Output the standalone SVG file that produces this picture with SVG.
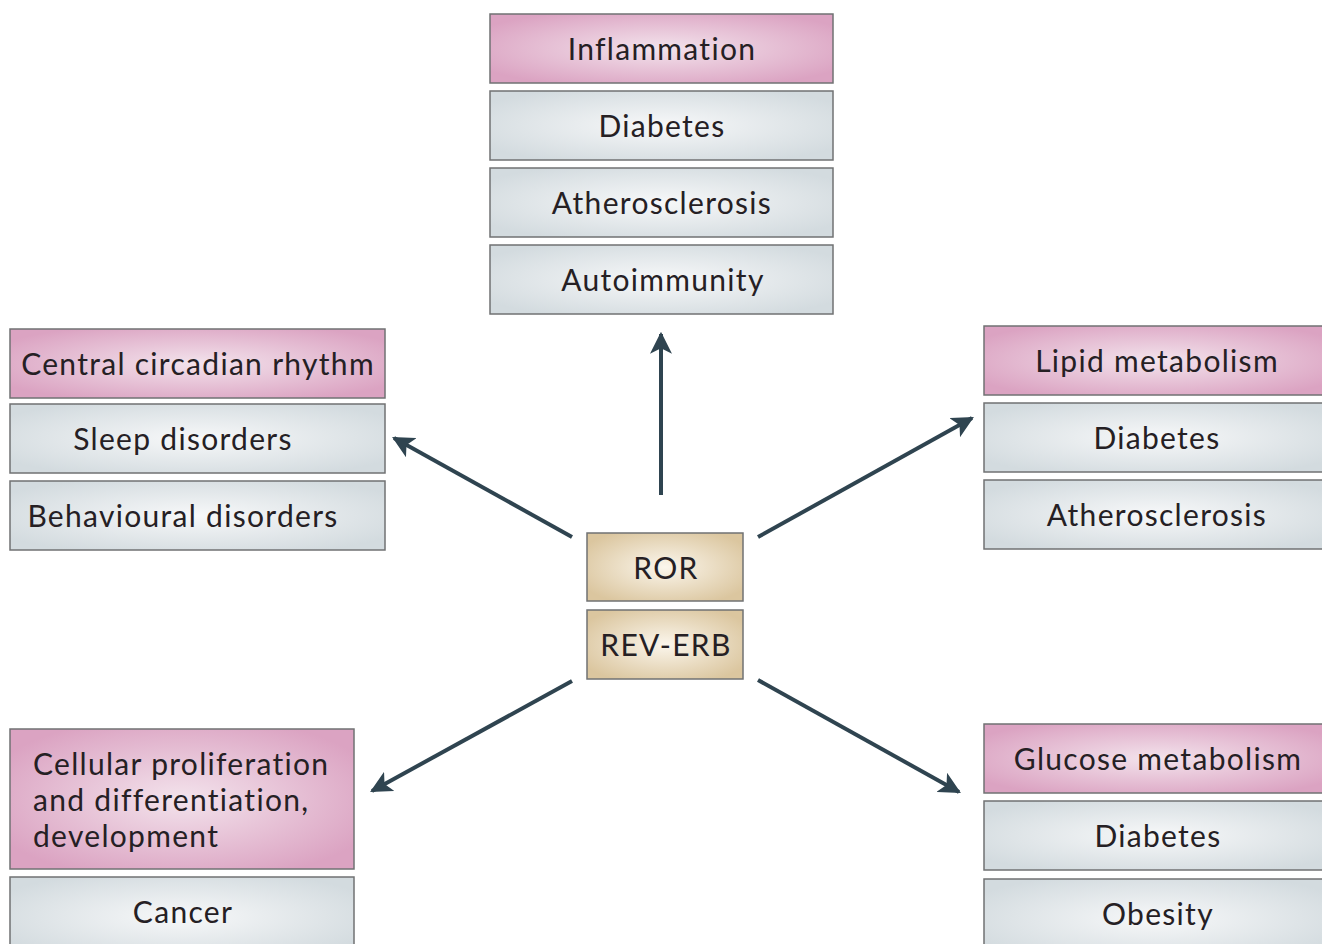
<svg xmlns="http://www.w3.org/2000/svg" width="1322" height="944" viewBox="0 0 1322 944">
<defs>
<radialGradient id="gPink" cx="50%" cy="50%" r="60%">
<stop offset="0" stop-color="#f3e3ec"/>
<stop offset="1" stop-color="#dba3c2"/>
</radialGradient>
<radialGradient id="gGrey" cx="50%" cy="50%" r="60%">
<stop offset="0" stop-color="#f7f8f9"/>
<stop offset="1" stop-color="#d3dbdf"/>
</radialGradient>
<radialGradient id="gTan" cx="50%" cy="50%" r="60%">
<stop offset="0" stop-color="#fbf6ec"/>
<stop offset="1" stop-color="#dbc69f"/>
</radialGradient>
<marker id="ah" viewBox="0 0 10 10" refX="9" refY="5" markerWidth="5.5" markerHeight="5.5" orient="auto" markerUnits="strokeWidth">
<path d="M0,0 L10,5 L0,10 L2.5,5 Z" fill="#2f4450"/>
</marker>
<style>
.pink{fill:url(#gPink);stroke:#707273;stroke-width:1.5}
.grey{fill:url(#gGrey);stroke:#707273;stroke-width:1.5}
.tan{fill:url(#gTan);stroke:#707273;stroke-width:1.5}
text{font-family:Lato,"Open Sans","Liberation Sans",sans-serif;font-size:30px;letter-spacing:1.3px;fill:#252024;text-anchor:middle;dominant-baseline:central}
.l{text-anchor:start}
.conn{stroke:#2f4450;stroke-width:4;fill:none;marker-end:url(#ah)}
</style>
</defs>
<rect width="1322" height="944" fill="#ffffff"/>
<g id="connectors">
<line class="conn" x1="661" y1="495" x2="661" y2="334"/>
<line class="conn" x1="572" y1="537" x2="394" y2="438"/>
<line class="conn" x1="758" y1="537" x2="972" y2="418"/>
<line class="conn" x1="572" y1="681" x2="372" y2="791"/>
<line class="conn" x1="758" y1="680" x2="959" y2="792"/>
</g>
<g id="top">
<g id="inflammation"><rect class="pink" x="490" y="14" width="343" height="69"/><text x="662" y="48">Inflammation</text></g>
<g id="top-diabetes"><rect class="grey" x="490" y="91" width="343" height="69"/><text x="662" y="125">Diabetes</text></g>
<g id="top-atherosclerosis"><rect class="grey" x="490" y="168" width="343" height="69"/><text x="662" y="202">Atherosclerosis</text></g>
<g id="autoimmunity"><rect class="grey" x="490" y="245" width="343" height="69"/><text x="663" y="279">Autoimmunity</text></g>
</g>
<g id="left">
<g id="circadian"><rect class="pink" x="10" y="329" width="375" height="69"/><text x="198" y="363">Central circadian rhythm</text></g>
<g id="sleep"><rect class="grey" x="10" y="404" width="375" height="69"/><text x="183" y="438">Sleep disorders</text></g>
<g id="behavioural"><rect class="grey" x="10" y="481" width="375" height="69"/><text x="183" y="515">Behavioural disorders</text></g>
</g>
<g id="right">
<g id="lipid"><rect class="pink" x="984" y="326" width="345" height="69"/><text x="1157" y="360">Lipid metabolism</text></g>
<g id="right-diabetes"><rect class="grey" x="984" y="403" width="345" height="69"/><text x="1157" y="437">Diabetes</text></g>
<g id="right-atherosclerosis"><rect class="grey" x="984" y="480" width="345" height="69"/><text x="1157" y="514">Atherosclerosis</text></g>
</g>
<g id="center">
<g id="ror"><rect class="tan" x="587" y="533" width="156" height="68"/><text x="666" y="567">ROR</text></g>
<g id="rev-erb"><rect class="tan" x="587" y="610" width="156" height="69"/><text x="666" y="644">REV-ERB</text></g>
</g>
<g id="bottom-left">
<g id="cellular"><rect class="pink" x="10" y="729" width="344" height="140"/><text class="l" x="33" y="763">Cellular proliferation</text><text class="l" x="33" y="799">and differentiation,</text><text class="l" x="33" y="835">development</text></g>
<g id="cancer"><rect class="grey" x="10" y="877" width="344" height="80"/><text x="183" y="911">Cancer</text></g>
</g>
<g id="bottom-right">
<g id="glucose"><rect class="pink" x="984" y="724" width="345" height="69"/><text x="1158" y="758">Glucose metabolism</text></g>
<g id="br-diabetes"><rect class="grey" x="984" y="801" width="345" height="69"/><text x="1158" y="835">Diabetes</text></g>
<g id="obesity"><rect class="grey" x="984" y="879" width="345" height="80"/><text x="1158" y="913">Obesity</text></g>
</g>
</svg>
